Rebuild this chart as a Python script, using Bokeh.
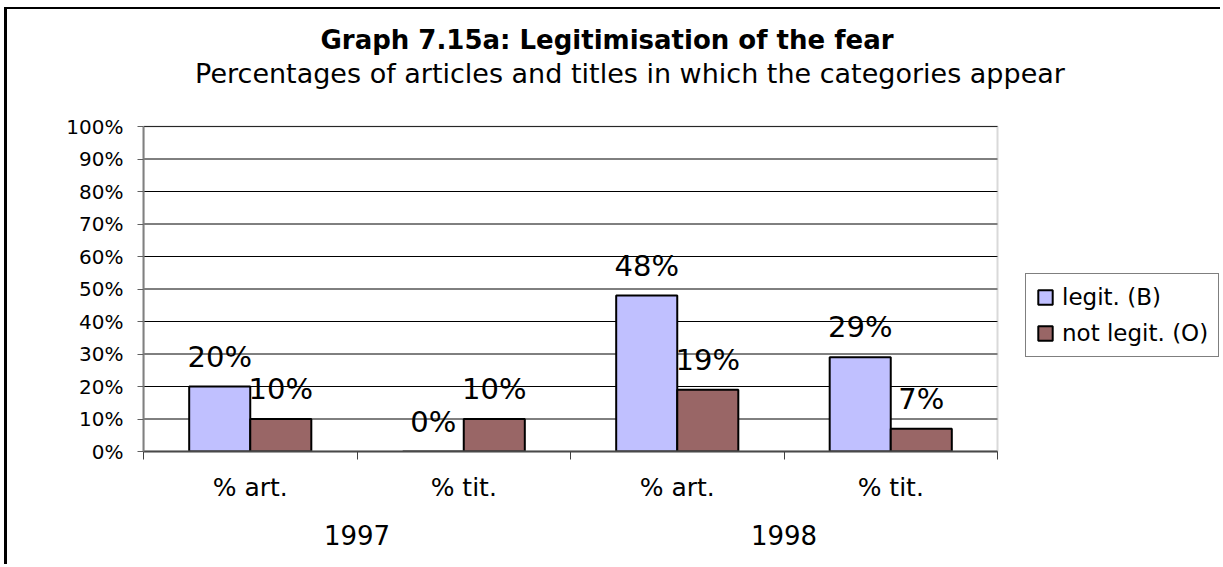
import numpy as np
from bokeh.plotting import figure
from bokeh.models import (Range1d, FixedTicker, PrintfTickFormatter, Legend,
                          LegendItem, LinearAxis, Label, BoxAnnotation)
from bokeh.core.properties import value
from bokeh.embed import file_html
from bokeh.resources import INLINE

# ---------------- data ----------------
title = "Graph 7.15a: Legitimisation of the fear"
subtitle = "Percentages of articles and titles in which the categories appear"
categories = ["% art.", "% tit.", "% art.", "% tit."]
category_year = ["1997", "1997", "1998", "1998"]
years = ["1997", "1998"]
series_names = ["legit. (B)", "not legit. (O)"]
legit = [20, 0, 48, 29]
not_legit = [10, 10, 19, 7]
y_ticks = [0, 10, 20, 30, 40, 50, 60, 70, 80, 90, 100]

# ---------------- layout / style ----------------
FONT = "DejaVu Sans"
BLUE = "#C0C0FF"
BROWN = "#996666"
W, H = 1220, 564
LEFT, TOP, BOTTOM_Y = 143, 126, 451       # plot-area edges in page pixels
PLOT_W = 854                              # plot-area width in pixels
PLOT_H = BOTTOM_Y - TOP
n = len(categories)
y_max = max(y_ticks)
frame_w = W - LEFT
x_end = n * frame_w / PLOT_W              # frame extends right to hold the legend
y_end = y_max * BOTTOM_Y / PLOT_H         # frame extends up to hold the titles
centers = np.arange(n) + 0.5
bounds = list(range(n + 1))
bw = 0.286

p = figure(width=W, height=H, x_range=Range1d(0, x_end), y_range=Range1d(0, y_end),
           output_backend="svg", toolbar_location=None, title=None,
           min_border_left=LEFT, min_border_right=0, min_border_top=0,
           min_border_bottom=H - BOTTOM_Y, background_fill_alpha=0,
           border_fill_alpha=0)
p.styles = {"background-color": "white",
            "box-shadow": "inset 4px 7px 0 0 white, inset 7px 9px 0 0 black"}
p.outline_line_color = None

# y axis
ya = p.yaxis[0]
ya.bounds = (0, y_max)
ya.ticker = FixedTicker(ticks=y_ticks)
ya.formatter = PrintfTickFormatter(format="%d%%")
ya.major_label_text_font = FONT
ya.major_label_text_font_size = "20px"
ya.major_label_text_color = "black"
ya.major_label_standoff = 14
ya.major_tick_out = 6
ya.major_tick_in = 0
ya.major_tick_line_color = "#606060"
ya.minor_tick_line_color = None
ya.axis_line_color = "#808080"
ya.axis_line_width = 2

# x axis: labels at category centres, ticks (minor) at category boundaries
xa = p.xaxis[0]
xa.bounds = (0, n)
xa.ticker = FixedTicker(ticks=list(centers), minor_ticks=bounds)
xa.major_label_overrides = {float(c): t for c, t in zip(centers, categories)}
xa.major_label_text_font = FONT
xa.major_label_text_font_size = "25px"
xa.major_label_text_color = "black"
xa.major_label_standoff = 13
xa.major_tick_out = 0
xa.major_tick_in = 0
xa.minor_tick_out = 8
xa.minor_tick_in = 0
xa.minor_tick_line_color = "#404040"
xa.minor_tick_line_width = 1
xa.axis_line_color = "#404040"
xa.axis_line_width = 2

# year axis
year_centers = [float(np.mean([c for c, y in zip(centers, category_year) if y == yr]))
                for yr in years]
yax = LinearAxis(ticker=FixedTicker(ticks=year_centers), bounds=(0, n),
                 major_label_overrides={c: yr for c, yr in zip(year_centers, years)},
                 major_label_text_font=FONT, major_label_text_font_size="26px",
                 major_label_text_color="black", major_label_standoff=20,
                 major_tick_out=0, major_tick_in=0, minor_tick_line_color=None,
                 axis_line_color=None, major_tick_line_color=None)
p.add_layout(yax, "below")

# grid lines only across the plot area
p.xgrid.visible = False
p.ygrid.visible = False
p.segment(x0=[0] * len(y_ticks), x1=[n] * len(y_ticks), y0=y_ticks, y1=y_ticks,
          line_color="black", line_width=1)

# bars
r1 = p.vbar(x=centers - bw / 2, top=legit, width=bw, bottom=0,
            fill_color=BLUE, line_color="black", line_width=2)
r2 = p.vbar(x=centers + bw / 2, top=not_legit, width=bw, bottom=0,
            fill_color=BROWN, line_color="black", line_width=2)

# plot-area border (top and right in grey)
p.add_layout(BoxAnnotation(left=0, right=n, bottom=0, top=y_max, fill_alpha=0,
                           line_color="#808080", line_width=2))

# data labels
for xs, vals in ((centers - bw / 2, legit), (centers + bw / 2, not_legit)):
    p.text(x=xs, y=vals, text=[f"{v}%" for v in vals], text_font=value(FONT),
           text_font_size="29px", text_align="center", text_baseline="alphabetic",
           text_color="black", y_offset=-30)

# titles
p.add_layout(Label(x=463.5, y=BOTTOM_Y - 39, x_units="screen", y_units="screen",
                   text=title, text_font=FONT, text_font_size="26px",
                   text_font_style="bold", text_align="center",
                   text_baseline="alphabetic", text_color="black"))
p.add_layout(Label(x=486.5, y=BOTTOM_Y - 73, x_units="screen", y_units="screen",
                   text=subtitle, text_font=FONT, text_font_size="27px",
                   text_align="center", text_baseline="alphabetic", text_color="black"))

# legend
legend = Legend(items=[LegendItem(label=series_names[0], renderers=[r1]),
                       LegendItem(label=series_names[1], renderers=[r2])],
                location=(882, 94), border_line_color="black", border_line_width=1,
                background_fill_color="white", background_fill_alpha=1,
                label_text_font=FONT, label_text_font_size="23px",
                label_text_color="black",
                glyph_width=18, glyph_height=18, padding=10, spacing=10,
                label_standoff=8, margin=0)
p.add_layout(legend)

open("out.html", "w").write(file_html(p, INLINE))
